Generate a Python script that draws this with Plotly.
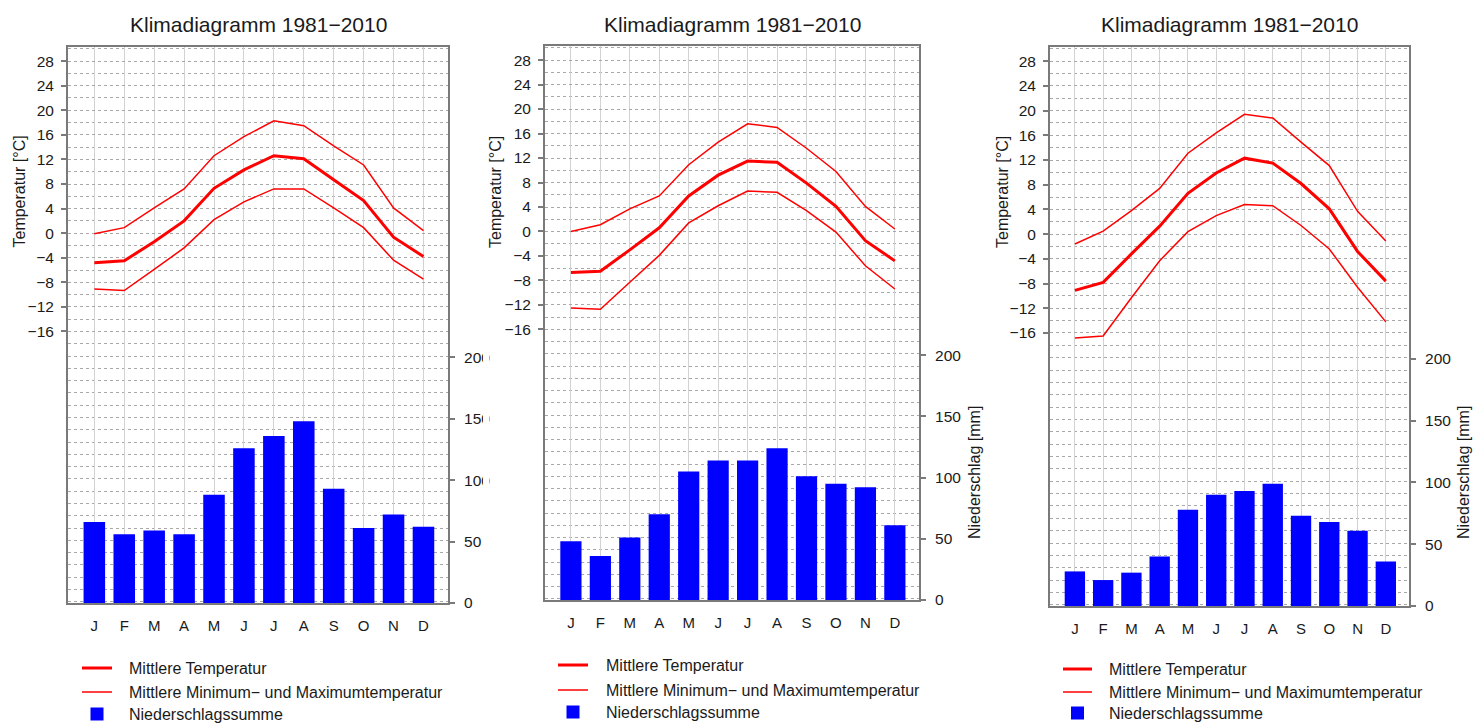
import plotly.graph_objects as go

# ---------------- data ----------------
month_labels = ["J", "F", "M", "A", "M", "J", "J", "A", "S", "O", "N", "D"]
month_pos = list(range(12))

t_mean_1 = [-4.8, -4.5, -1.4, 2.0, 7.3, 10.3, 12.6, 12.1, 8.7, 5.3, -0.65, -3.8]
t_max_1 = [-0.1, 0.9, 4.1, 7.2, 12.6, 15.7, 18.3, 17.5, 14.2, 11.1, 4.1, 0.4]
t_min_1 = [-9.1, -9.35, -5.9, -2.4, 2.2, 5.1, 7.2, 7.2, 4.1, 0.9, -4.4, -7.5]
prec_1 = [66, 56, 59, 56, 88, 126, 136, 148, 93, 61, 72, 62]

t_mean_2 = [-6.7, -6.5, -3.0, 0.6, 5.8, 9.2, 11.5, 11.3, 7.9, 4.1, -1.5, -4.8]
t_max_2 = [0.0, 1.1, 3.7, 5.8, 10.9, 14.6, 17.6, 17.0, 13.6, 9.8, 4.1, 0.4]
t_min_2 = [-12.5, -12.7, -8.3, -3.9, 1.4, 4.2, 6.6, 6.4, 3.4, -0.1, -5.6, -9.4]
prec_2 = [48, 36, 51, 70, 105, 114, 114, 124, 101, 95, 92, 61]

t_mean_3 = [-9.1, -7.8, -3.2, 1.3, 6.6, 9.9, 12.3, 11.5, 8.2, 4.1, -2.8, -7.6]
t_max_3 = [-1.6, 0.5, 3.8, 7.4, 13.1, 16.4, 19.4, 18.8, 14.9, 11.1, 3.7, -1.1]
t_min_3 = [-16.8, -16.5, -10.3, -4.3, 0.4, 3.0, 4.8, 4.6, 1.4, -2.4, -8.6, -14.2]
prec_3 = [28, 21, 27, 40, 78, 90, 93, 99, 73, 68, 61, 36]

temp_ticks = list(range(-16, 29, 4))
prec_ticks = [0, 50, 100, 150, 200]

title_text = "Klimadiagramm 1981−2010"
temp_title = "Temperatur [°C]"
prec_title = "Niederschlag [mm]"
leg_mean = "Mittlere Temperatur"
leg_minmax = "Mittlere Minimum− und Maximumtemperatur"
leg_prec = "Niederschlagssumme"

# ---------------- layout helpers ----------------
W, H = 1483, 724
FONT = "Liberation Sans, Arial, Helvetica, sans-serif"
TXT = "#1a1a1a"
RED = "#ff0000"
BLUE = "#0000ff"
AX = "#7a7a7a"


def px(x):
    return x / W


def py(y):
    return 1 - y / H


panels = [
    dict(t_mean=t_mean_1, t_max=t_max_1, t_min=t_min_1, prec=prec_1,
         x0=68, x1=448, y0=47, y1=603,
         leg_line=(82, 112), leg_text=127, leg_rows=(668, 692, 714),
         ttl_x=18.5, prec_ttl_x=None),
    dict(t_mean=t_mean_2, t_max=t_max_2, t_min=t_min_2, prec=prec_2,
         x0=545, x1=919, y0=46, y1=600,
         leg_line=(558, 588), leg_text=604, leg_rows=(665, 690, 712),
         ttl_x=495, prec_ttl_x=974),
    dict(t_mean=t_mean_3, t_max=t_max_3, t_min=t_min_3, prec=prec_3,
         x0=1050, x1=1409, y0=47, y1=606,
         leg_line=(1063, 1092), leg_text=1107, leg_rows=(669, 692, 713),
         ttl_x=1002, prec_ttl_x=1463),
]

TRANGE = [-60.2, 30.3]
PRANGE = [0, 452.5]
XRANGE = [-0.88, 11.82]

fig = go.Figure()
annotations = []
shapes = []
layout = {}

for i, p in enumerate(panels):
    xa = "x" if i == 0 else f"x{i + 1}"
    ya_t = "y" if i == 0 else f"y{2 * i + 1}"
    ya_p = f"y{2 * i + 2}"

    fig.add_trace(go.Scatter(
        x=month_pos, y=p["t_mean"], mode="lines", name=leg_mean,
        line=dict(color=RED, width=3), xaxis=xa, yaxis=ya_t))
    fig.add_trace(go.Scatter(
        x=month_pos, y=p["t_min"], mode="lines", name=leg_minmax,
        line=dict(color=RED, width=1.5), xaxis=xa, yaxis=ya_t))
    fig.add_trace(go.Scatter(
        x=month_pos, y=p["t_max"], mode="lines", name=leg_minmax,
        line=dict(color=RED, width=1.5), xaxis=xa, yaxis=ya_t))
    fig.add_trace(go.Bar(
        x=month_pos, y=p["prec"], name=leg_prec, width=0.72,
        marker=dict(color=BLUE, line=dict(width=0)),
        xaxis=xa, yaxis=ya_p))

    xkey = "xaxis" if i == 0 else f"xaxis{i + 1}"
    ytkey = "yaxis" if i == 0 else f"yaxis{2 * i + 1}"
    ypkey = f"yaxis{2 * i + 2}"

    layout[xkey] = dict(
        domain=[px(p["x0"]), px(p["x1"])], anchor=ya_t, range=XRANGE,
        tickmode="array", tickvals=month_pos, ticktext=month_labels,
        ticks="", showline=True, mirror=True, linecolor=AX, linewidth=2,
        showgrid=True, gridcolor="#d2d2d2", gridwidth=1,
        zeroline=False, ticklabelstandoff=8,
        tickfont=dict(family=FONT, size=15, color=TXT), fixedrange=True)
    layout[ytkey] = dict(
        domain=[py(p["y1"]), py(p["y0"])], anchor=xa, range=TRANGE,
        tickmode="array", tickvals=temp_ticks,
        ticks="outside", ticklen=5, tickcolor=AX, tickwidth=1.5,
        showline=True, linecolor=AX, linewidth=2,
        showgrid=True, gridcolor="#a8a8a8", griddash="dot", gridwidth=1,
        minor=dict(tickmode="linear", tick0=0, dtick=2, showgrid=True,
                   gridcolor="#a8a8a8", griddash="dot", gridwidth=1, ticks=""),
        zeroline=False, ticklabelstandoff=4,
        tickfont=dict(family=FONT, size=15.5, color=TXT), fixedrange=True)
    layout[ypkey] = dict(
        domain=[py(p["y1"]), py(p["y0"])], anchor=xa, overlaying=ya_t,
        side="right", range=PRANGE,
        tickmode="array", tickvals=prec_ticks,
        ticks="outside", ticklen=5, tickcolor=AX, tickwidth=1.5,
        showline=True, linecolor=AX, linewidth=2, showgrid=False,
        zeroline=False, ticklabelstandoff=6,
        tickfont=dict(family=FONT, size=15.5, color=TXT), fixedrange=True)

    # titles
    cx = (p["x0"] + p["x1"]) / 2
    annotations.append(dict(
        text=title_text, x=px(cx), y=py(25), xref="paper", yref="paper",
        xanchor="center", yanchor="middle", showarrow=False,
        font=dict(family=FONT, size=21, color=TXT)))
    annotations.append(dict(
        text=temp_title, x=px(p["ttl_x"]), y=py(192), xref="paper", yref="paper",
        xanchor="center", yanchor="middle", showarrow=False, textangle=-90,
        font=dict(family=FONT, size=16, color=TXT)))
    if p["prec_ttl_x"] is not None:
        annotations.append(dict(
            text=prec_title, x=px(p["prec_ttl_x"]), y=py(473), xref="paper",
            yref="paper", xanchor="center", yanchor="middle", showarrow=False,
            textangle=-90, font=dict(family=FONT, size=16, color=TXT)))

    # legend (drawn by hand: one per diagram, under it)
    lx0, lx1 = p["leg_line"]
    r1, r2, r3 = p["leg_rows"]
    shapes.append(dict(type="line", xref="paper", yref="paper",
                       x0=px(lx0), x1=px(lx1), y0=py(r1), y1=py(r1),
                       line=dict(color=RED, width=3)))
    shapes.append(dict(type="line", xref="paper", yref="paper",
                       x0=px(lx0), x1=px(lx1), y0=py(r2), y1=py(r2),
                       line=dict(color=RED, width=1.5)))
    sc = (lx0 + lx1) / 2
    shapes.append(dict(type="rect", xref="paper", yref="paper",
                       x0=px(sc - 6.5), x1=px(sc + 6.5),
                       y0=py(r3 + 6.5), y1=py(r3 - 6.5),
                       fillcolor=BLUE, line=dict(width=0)))
    for txt, ry in ((leg_mean, r1), (leg_minmax, r2), (leg_prec, r3)):
        annotations.append(dict(
            text=txt, x=px(p["leg_text"]), y=py(ry), xref="paper", yref="paper",
            xanchor="left", yanchor="middle", showarrow=False,
            font=dict(family=FONT, size=16, color=TXT)))

# white strip: the first panel's right labels are cut off in the original
shapes.append(dict(type="rect", xref="paper", yref="paper",
                   x0=px(483), x1=px(489), y0=py(640), y1=py(320),
                   fillcolor="white", line=dict(width=0), layer="above"))

fig.update_layout(
    width=W, height=H, autosize=False,
    margin=dict(l=0, r=0, t=0, b=0, autoexpand=False),
    paper_bgcolor="white", plot_bgcolor="white",
    showlegend=False, barmode="overlay",
    annotations=annotations, shapes=shapes,
    font=dict(family=FONT, color=TXT),
    **layout)

fig.write_html("out.html")
